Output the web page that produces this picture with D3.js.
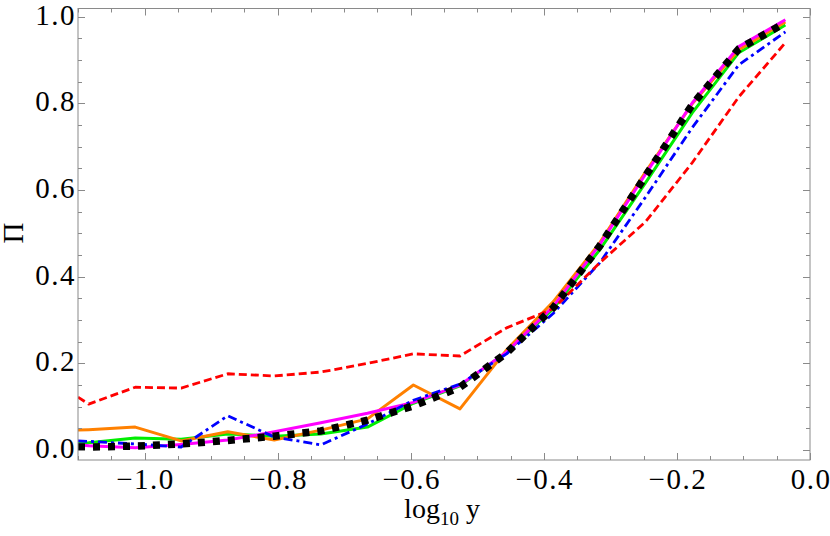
<!DOCTYPE html>
<html>
<head>
<meta charset="utf-8">
<script src="https://cdnjs.cloudflare.com/ajax/libs/d3/7.8.5/d3.min.js"></script>
<style>
  body { margin: 0; background: #fff; }
  text { font-family: "Liberation Serif", "Times New Roman", serif; fill: #000; }
</style>
</head>
<body>
<svg id="chart" width="830" height="536"></svg>
<script>
// log10 y grid (first value sits on the left frame edge)
const logY = [-1.1, -1.084, -1.014, -0.945, -0.875, -0.805, -0.735, -0.665, -0.596,
  -0.526, -0.456, -0.386, -0.316, -0.247, -0.177, -0.107, -0.037];

const redDashed = [0.122, 0.106, 0.145, 0.143, 0.176, 0.171, 0.18, 0.2, 0.222,
  0.217, 0.282, 0.326, 0.432, 0.527, 0.663, 0.815, 0.94];
const blueDotDash = [0.021, 0.02, 0.014, 0.007, 0.079, 0.03, 0.012, 0.06, 0.115,
  0.152, 0.222, 0.315, 0.432, 0.584, 0.744, 0.889, 0.965];
const greenSolid = [0.016, 0.017, 0.028, 0.025, 0.037, 0.032, 0.037, 0.053, 0.108,
  0.148, 0.226, 0.326, 0.462, 0.617, 0.778, 0.917, 0.981];
const orangeSolid = [0.046, 0.047, 0.053, 0.021, 0.042, 0.023, 0.046, 0.072, 0.15,
  0.095, 0.231, 0.342, 0.478, 0.642, 0.799, 0.924, 0.988];
const magentaSolid = [0.012, 0.01, 0.005, 0.013, 0.023, 0.042, 0.063, 0.085, 0.11,
  0.15, 0.226, 0.331, 0.474, 0.637, 0.801, 0.931, 0.993];
const blackDotted = [0.007, 0.007, 0.009, 0.014, 0.022, 0.032, 0.044, 0.069, 0.102,
  0.145, 0.224, 0.328, 0.471, 0.633, 0.797, 0.926, 0.986];

const xMajor = [-1.0, -0.8, -0.6, -0.4, -0.2, 0.0];
const yMajor = [0.0, 0.2, 0.4, 0.6, 0.8, 1.0];

const frame = { left: 78, right: 810, top: 8.5, bottom: 460 };

const svg = d3.select('#chart');

const x = d3.scaleLinear().domain([-1.1, 0]).range([frame.left, frame.right]);
const y = d3.scaleLinear().domain([-0.023, 1.019]).range([frame.bottom, frame.top]);

const fmt = v => (v < 0 ? '\u2212' : '') + Math.abs(v).toFixed(1);
const frameColor = '#8a8a8a';

// clip region = frame
svg.append('clipPath').attr('id', 'clip')
  .append('rect')
  .attr('x', frame.left).attr('y', frame.top)
  .attr('width', frame.right - frame.left).attr('height', frame.bottom - frame.top);

const line = d3.line()
  .x((d, i) => x(logY[i]))
  .y(d => y(d));

const series = [
  { values: greenSolid, color: '#00ee00', dash: null, width: 3 },
  { values: orangeSolid, color: '#ff8000', dash: null, width: 3 },
  { values: magentaSolid, color: '#ff00ff', dash: null, width: 3 },
  { values: blueDotDash, color: '#0000ff', dash: '9,4,3,4', width: 2.8 },
  { values: redDashed, color: '#ff0000', dash: '8,4', width: 2.8 },
  { values: blackDotted, color: '#000000', dash: '7,8', width: 7.5 }
];

const lines = svg.append('g').attr('clip-path', 'url(#clip)');
series.forEach(s => {
  lines.append('path')
    .datum(s.values)
    .attr('fill', 'none')
    .attr('stroke', s.color)
    .attr('stroke-width', s.width)
    .attr('stroke-dasharray', s.dash)
    .attr('stroke-linejoin', 'round')
    .attr('d', line);
});

// frame with inward ticks on all four sides
const xMinor = d3.range(-1.1, 0.001, 0.05).map(v => +v.toFixed(2));
const yMinor = d3.range(0, 1.001, 0.05).map(v => +v.toFixed(2));
const isMajor = v => Math.abs(v * 5 - Math.round(v * 5)) < 1e-6;

const axes = svg.append('g')
  .attr('stroke', frameColor)
  .attr('stroke-width', 1)
  .attr('fill', 'none');

axes.append('rect')
  .attr('x', frame.left).attr('y', frame.top)
  .attr('width', frame.right - frame.left).attr('height', frame.bottom - frame.top);

xMinor.forEach(v => {
  const len = isMajor(v) ? 7 : 4;
  const px = Math.round(x(v)) + 0.5;
  axes.append('line').attr('x1', px).attr('x2', px).attr('y1', frame.bottom).attr('y2', frame.bottom - len);
  axes.append('line').attr('x1', px).attr('x2', px).attr('y1', frame.top).attr('y2', frame.top + len);
});
yMinor.forEach(v => {
  const len = isMajor(v) ? 7 : 4;
  const py = Math.round(y(v)) + 0.5;
  axes.append('line').attr('y1', py).attr('y2', py).attr('x1', frame.left).attr('x2', frame.left + len);
  axes.append('line').attr('y1', py).attr('y2', py).attr('x1', frame.right).attr('x2', frame.right - len);
});

// tick labels
svg.append('g').selectAll('text')
  .data(xMajor).join('text')
  .attr('x', d => x(d) + 1)
  .attr('y', 489)
  .attr('text-anchor', 'middle')
  .attr('font-size', 29)
  .attr('letter-spacing', 1.5)
  .text(fmt);

svg.append('g').selectAll('text')
  .data(yMajor).join('text')
  .attr('x', 76)
  .attr('y', d => y(d) + 8)
  .attr('text-anchor', 'end')
  .attr('font-size', 29)
  .attr('letter-spacing', 1.5)
  .text(fmt);

// axis labels
const xl = svg.append('text')
  .attr('x', 442)
  .attr('y', 518)
  .attr('text-anchor', 'middle')
  .attr('font-size', 28);
xl.append('tspan').text('log');
xl.append('tspan').attr('font-size', 19).attr('dy', 7).text('10');
xl.append('tspan').attr('dy', -7).text(' y');

svg.append('text')
  .attr('transform', 'translate(23,233) rotate(-90)')
  .attr('text-anchor', 'middle')
  .attr('font-size', 29)
  .text('\u03A0');
</script>
</body>
</html>
